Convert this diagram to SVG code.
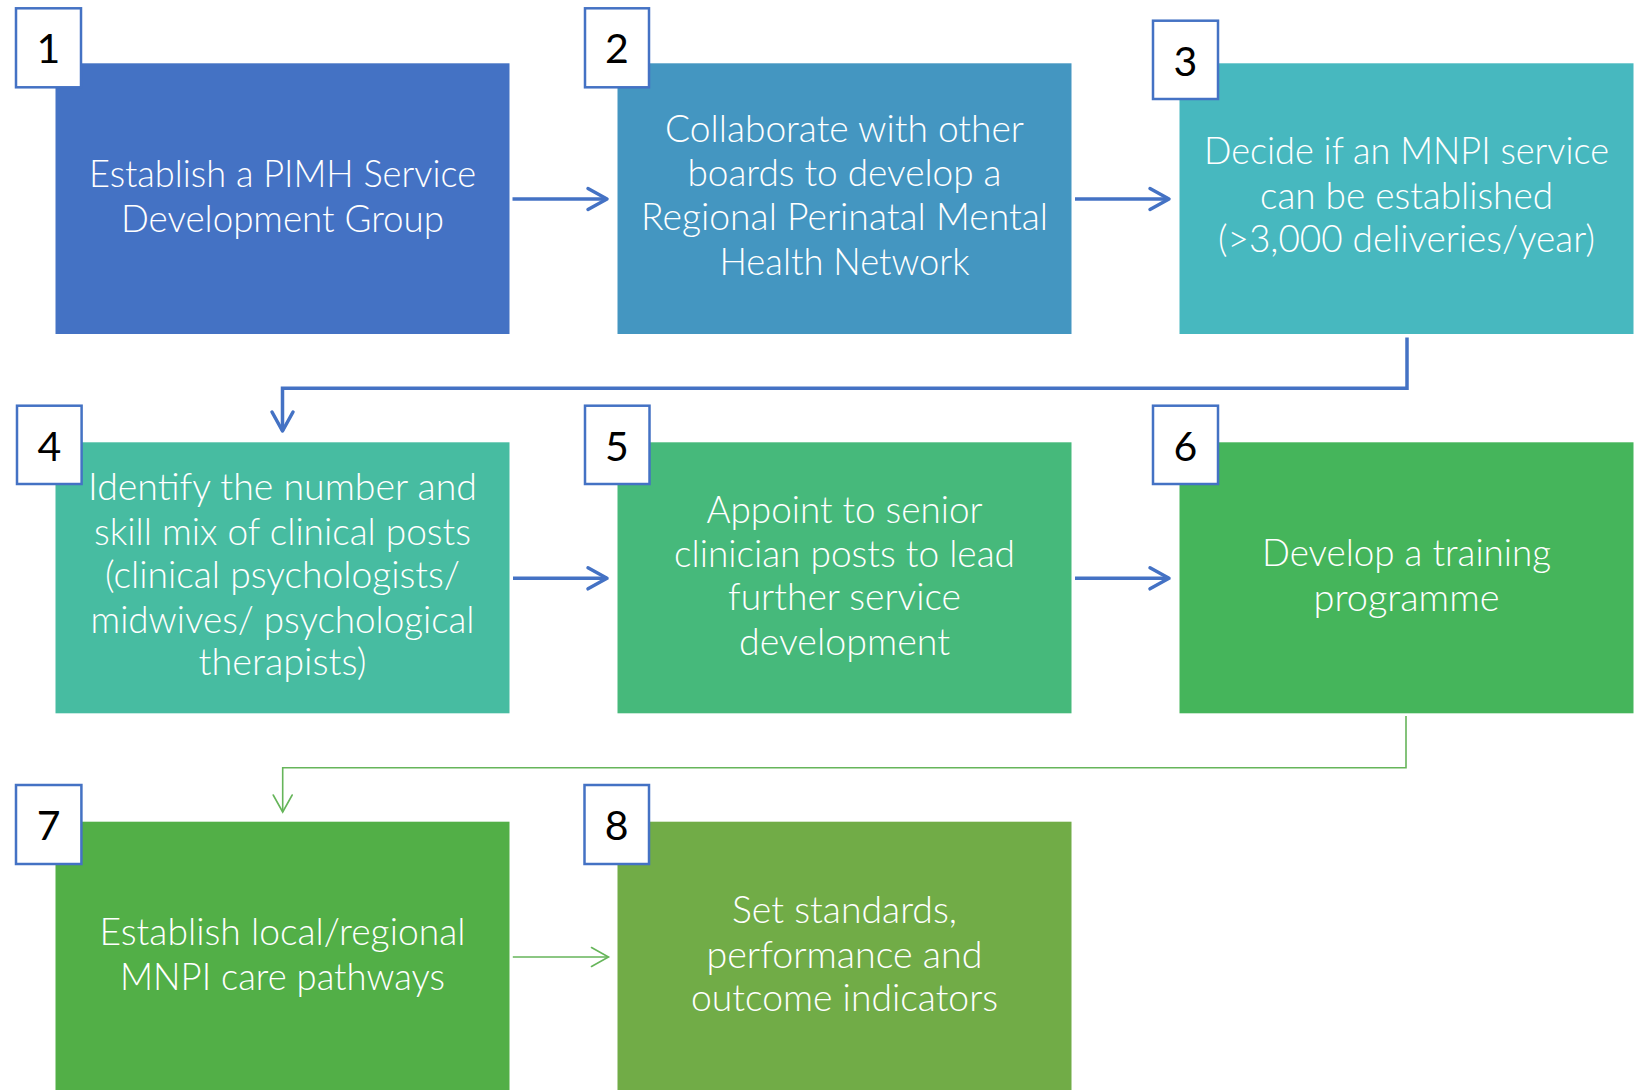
<svg xmlns="http://www.w3.org/2000/svg" width="1644" height="1090" viewBox="0 0 1644 1090">
<defs>
<style>
.box{stroke:none}
.num{fill:#fff;stroke:#4472C4;stroke-width:2.5}
.nt{font-family:Lato,"Liberation Sans",sans-serif;font-size:41px;fill:#000;text-anchor:middle}
.t{font-family:Lato,"Liberation Sans",sans-serif;font-weight:300;font-size:37px;fill:#fff;text-anchor:middle}
.cb{fill:none;stroke:#4472C4;stroke-width:3.5}
.cg{fill:none;stroke:#66B55A;stroke-width:1.6}
</style>
<marker id="ab" markerUnits="userSpaceOnUse" markerWidth="30" markerHeight="30" viewBox="-25 -15 30 30" refX="0" refY="0" orient="auto" overflow="visible">
<path d="M-19,-10.5 L0,0 L-19,10.5" fill="none" stroke="#4472C4" stroke-width="3.5" stroke-linecap="round" stroke-linejoin="round"/>
</marker>
<marker id="ag" markerUnits="userSpaceOnUse" markerWidth="30" markerHeight="30" viewBox="-25 -15 30 30" refX="0" refY="0" orient="auto" overflow="visible">
<path d="M-17,-9.5 L0,0 L-17,9.5" fill="none" stroke="#66B55A" stroke-width="1.6" stroke-linecap="round"/>
</marker>
</defs>
<rect width="1644" height="1090" fill="#fff"/>

<g id="connectors">
<path class="cb" d="M512.5,199 H607" marker-end="url(#ab)"/>
<path class="cb" d="M1075,199 H1169" marker-end="url(#ab)"/>
<path class="cb" d="M1407,337.5 V388.3 H282.5 V431" marker-end="url(#ab)"/>
<path class="cb" d="M513,578.3 H607" marker-end="url(#ab)"/>
<path class="cb" d="M1075,578.3 H1169" marker-end="url(#ab)"/>
<path class="cg" d="M1406,716 V767.7 H282.7 V812" marker-end="url(#ag)"/>
<path class="cg" d="M512.8,957 H608.5" marker-end="url(#ag)"/>
</g>

<g id="node1">
<rect class="box" x="55.5" y="63.3" width="454" height="270.7" fill="#4472C4"/>
<text class="t" x="282.5" y="186.7" textLength="387" lengthAdjust="spacingAndGlyphs">Establish a PIMH Service</text>
<text class="t" x="282.5" y="232" textLength="323" lengthAdjust="spacingAndGlyphs">Development Group</text>
<rect class="num" x="16" y="8.3" width="65" height="79"/>
<text class="nt" x="48.5" y="63.3">1</text>
</g>

<g id="node2">
<rect class="box" x="617.5" y="63.3" width="454" height="270.7" fill="#4496C1"/>
<text class="t" x="844.5" y="141.5" textLength="359" lengthAdjust="spacingAndGlyphs">Collaborate with other</text>
<text class="t" x="844.5" y="186" textLength="314" lengthAdjust="spacingAndGlyphs">boards to develop a</text>
<text class="t" x="844.5" y="230" textLength="407" lengthAdjust="spacingAndGlyphs">Regional Perinatal Mental</text>
<text class="t" x="844.5" y="274.5" textLength="250" lengthAdjust="spacingAndGlyphs">Health Network</text>
<rect class="num" x="585" y="8.3" width="64" height="79"/>
<text class="nt" x="617" y="63.3">2</text>
</g>

<g id="node3">
<rect class="box" x="1179.5" y="63.3" width="454" height="270.7" fill="#47B8BF"/>
<text class="t" x="1406.5" y="164" textLength="405" lengthAdjust="spacingAndGlyphs">Decide if an MNPI service</text>
<text class="t" x="1406.5" y="208.5" textLength="293" lengthAdjust="spacingAndGlyphs">can be established</text>
<text class="t" x="1406.5" y="251.5" textLength="377" lengthAdjust="spacingAndGlyphs">(&gt;3,000 deliveries/year)</text>
<rect class="num" x="1153" y="20.7" width="65" height="78.3"/>
<text class="nt" x="1185.5" y="75.5">3</text>
</g>

<g id="node4">
<rect class="box" x="55.5" y="442.3" width="454" height="271" fill="#47BCA1"/>
<text class="t" x="282.5" y="499.5" textLength="389" lengthAdjust="spacingAndGlyphs">Identify the number and</text>
<text class="t" x="282.5" y="545" textLength="377" lengthAdjust="spacingAndGlyphs">skill mix of clinical posts</text>
<text class="t" x="282.5" y="587.5" textLength="355" lengthAdjust="spacingAndGlyphs">(clinical psychologists/</text>
<text class="t" x="282.5" y="633" textLength="384" lengthAdjust="spacingAndGlyphs">midwives/ psychological</text>
<text class="t" x="282.5" y="675" textLength="168" lengthAdjust="spacingAndGlyphs">therapists)</text>
<rect class="num" x="17" y="405.7" width="64.6" height="78.3"/>
<text class="nt" x="49.3" y="461">4</text>
</g>

<g id="node5">
<rect class="box" x="617.5" y="442.3" width="454" height="271" fill="#46B97B"/>
<text class="t" x="844.5" y="523.3" textLength="276" lengthAdjust="spacingAndGlyphs">Appoint to senior</text>
<text class="t" x="844.5" y="566.7" textLength="341" lengthAdjust="spacingAndGlyphs">clinician posts to lead</text>
<text class="t" x="844.5" y="610" textLength="233" lengthAdjust="spacingAndGlyphs">further service</text>
<text class="t" x="844.5" y="655" textLength="211" lengthAdjust="spacingAndGlyphs">development</text>
<rect class="num" x="585" y="405.7" width="64.5" height="78.3"/>
<text class="nt" x="617" y="461">5</text>
</g>

<g id="node6">
<rect class="box" x="1179.5" y="442.3" width="454" height="271" fill="#45B55B"/>
<text class="t" x="1406.5" y="565.7" textLength="289" lengthAdjust="spacingAndGlyphs">Develop a training</text>
<text class="t" x="1406.5" y="611" textLength="186" lengthAdjust="spacingAndGlyphs">programme</text>
<rect class="num" x="1153" y="405.7" width="65" height="78.3"/>
<text class="nt" x="1185.5" y="461">6</text>
</g>

<g id="node7">
<rect class="box" x="55.5" y="821.7" width="454" height="275" fill="#52AF47"/>
<text class="t" x="282.5" y="945" textLength="366" lengthAdjust="spacingAndGlyphs">Establish local/regional</text>
<text class="t" x="282.5" y="990" textLength="325" lengthAdjust="spacingAndGlyphs">MNPI care pathways</text>
<rect class="num" x="16" y="785" width="65.4" height="79"/>
<text class="nt" x="48.7" y="840">7</text>
</g>

<g id="node8">
<rect class="box" x="617.5" y="821.7" width="454" height="275" fill="#71AC47"/>
<text class="t" x="844.5" y="923.3" textLength="225" lengthAdjust="spacingAndGlyphs">Set standards,</text>
<text class="t" x="844.5" y="968.3" textLength="276" lengthAdjust="spacingAndGlyphs">performance and</text>
<text class="t" x="844.5" y="1010.7" textLength="307" lengthAdjust="spacingAndGlyphs">outcome indicators</text>
<rect class="num" x="584.5" y="785" width="64.5" height="79"/>
<text class="nt" x="616.7" y="840">8</text>
</g>
</svg>
